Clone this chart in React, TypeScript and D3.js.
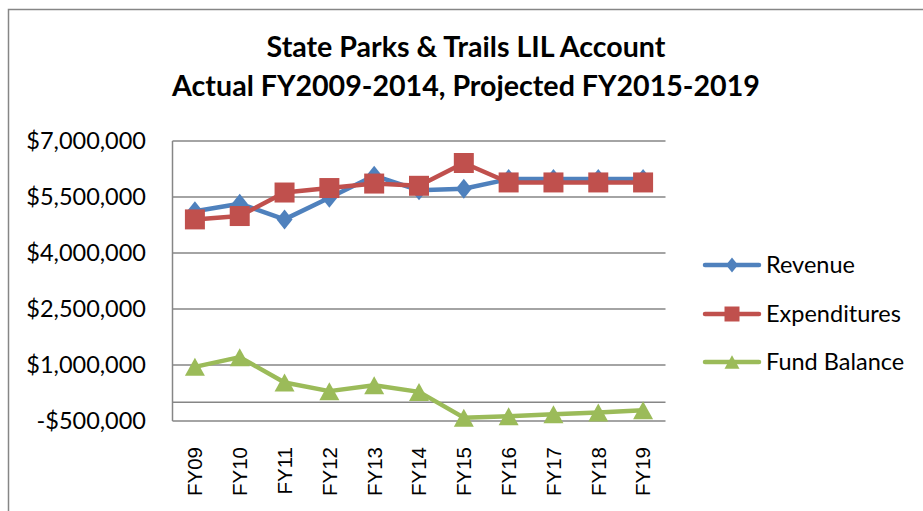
import React from 'react';
import * as d3 from 'd3';

const categories = ['FY09', 'FY10', 'FY11', 'FY12', 'FY13', 'FY14', 'FY15', 'FY16', 'FY17', 'FY18', 'FY19'];
const revenue = [5120000, 5320000, 4900000, 5480000, 6070000, 5680000, 5720000, 5980000, 5980000, 5980000, 5980000];
const expenditures = [4900000, 4990000, 5620000, 5740000, 5860000, 5800000, 6410000, 5890000, 5890000, 5890000, 5890000];
const fundBalance = [950000, 1210000, 530000, 300000, 460000, 280000, -410000, -375000, -320000, -270000, -210000];
const yTicks = [-500000, 1000000, 2500000, 4000000, 5500000, 7000000];
const titleLines = ['State Parks & Trails LIL Account', 'Actual FY2009-2014, Projected FY2015-2019'];

type Marker = 'diamond' | 'square' | 'triangle';

interface Series {
  name: string;
  values: number[];
  color: string;
  marker: Marker;
}

const series: Series[] = [
  { name: 'Revenue', values: revenue, color: '#4F81BD', marker: 'diamond' },
  { name: 'Expenditures', values: expenditures, color: '#C0504D', marker: 'square' },
  { name: 'Fund Balance', values: fundBalance, color: '#9BBB59', marker: 'triangle' },
];

const W = 923;
const H = 511;
const plot = { left: 172.5, right: 665.5, top: 141, bottom: 421 };
const calibri = 'Lato, "Open Sans", sans-serif';
const gridColor = '#868686';

// marker outline at (x, y), scaled by k
const markerPath = (m: Marker, x: number, y: number, k = 1) => {
  if (m === 'diamond') {
    const w = 8 * k, h = 10 * k;
    return `M${x},${y - h}L${x + w},${y}L${x},${y + h}L${x - w},${y}Z`;
  }
  if (m === 'square') {
    const s = 10 * k;
    return `M${x - s},${y - s}H${x + s}V${y + s}H${x - s}Z`;
  }
  const w = 10 * k, h = 9 * k;
  return `M${x},${y - h}L${x + w},${y + h}L${x - w},${y + h}Z`;
};

const fmtMoney = (v: number) => d3.format('$,.0f')(v).replace('\u2212', '-');

export default function App() {
  const x = d3.scaleBand<string>().domain(categories).range([plot.left, plot.right]);
  const y = d3.scaleLinear().domain([-500000, 7000000]).range([plot.bottom, plot.top]);
  const cx = (c: string) => (x(c) || 0) + x.bandwidth() / 2;

  const line = d3.line<number>()
    .x((_, i) => cx(categories[i]))
    .y(d => y(d));

  const legendX = 705;
  const legendY = [265, 314, 362];

  return (
    <svg
      width={W}
      height={H}
      viewBox={`0 0 ${W} ${H}`}
      style={{ position: 'absolute', left: 0, top: 0, background: '#fff' }}
    >
      <rect x={0} y={0} width={W} height={H} fill="#fff" />
      <rect x={8.5} y={9.5} width={W + 20} height={H + 20} fill="none" stroke={gridColor} strokeWidth={1.5} />

      {/* title */}
      {titleLines.map((t, i) => (
        <text
          key={t}
          x={466}
          y={57 + i * 39}
          textAnchor="middle"
          fontFamily={calibri}
          fontWeight="bold"
          fontSize={28.6}
          fill="#000"
        >
          {t}
        </text>
      ))}

      {/* gridlines */}
      {yTicks.map(t => (
        <line key={t} x1={plot.left} x2={plot.right} y1={y(t)} y2={y(t)} stroke={gridColor} strokeWidth={1.5} />
      ))}
      <line x1={plot.left} x2={plot.right} y1={y(0)} y2={y(0)} stroke={gridColor} strokeWidth={1.5} />
      <line x1={plot.left} x2={plot.left} y1={plot.top} y2={plot.bottom} stroke={gridColor} strokeWidth={1.5} />

      {/* y labels */}
      {yTicks.map(t => (
        <text
          key={t}
          x={146}
          y={y(t)}
          dy="0.36em"
          textAnchor="end"
          fontFamily={calibri}
          fontSize={23.5}
          fill="#000"
        >
          {fmtMoney(t)}
        </text>
      ))}

      {/* x labels */}
      {categories.map(c => (
        <text
          key={c}
          transform={`translate(${cx(c)},447) rotate(-90)`}
          dy="0.36em"
          textAnchor="end"
          fontFamily='"Liberation Sans", Arial, sans-serif'
          fontSize={20.5}
          fill="#000"
        >
          {c}
        </text>
      ))}

      {/* series */}
      {series.map(s => (
        <g key={s.name}>
          <path d={line(s.values) || ''} fill="none" stroke={s.color} strokeWidth={4.5} strokeLinejoin="round" />
          {s.values.map((v, i) => (
            <path key={i} d={markerPath(s.marker, cx(categories[i]), y(v))} fill={s.color} />
          ))}
        </g>
      ))}

      {/* legend */}
      {series.map((s, i) => (
        <g key={s.name}>
          <line x1={legendX} x2={legendX + 54} y1={legendY[i]} y2={legendY[i]} stroke={s.color} strokeWidth={4.5} strokeLinecap="round" />
          <path d={markerPath(s.marker, legendX + 27, legendY[i], 0.75)} fill={s.color} />
          <text
            x={legendX + 61}
            y={legendY[i]}
            dy="0.36em"
            fontFamily={calibri}
            fontSize={23.5}
            fill="#000"
          >
            {s.name}
          </text>
        </g>
      ))}
    </svg>
  );
}
